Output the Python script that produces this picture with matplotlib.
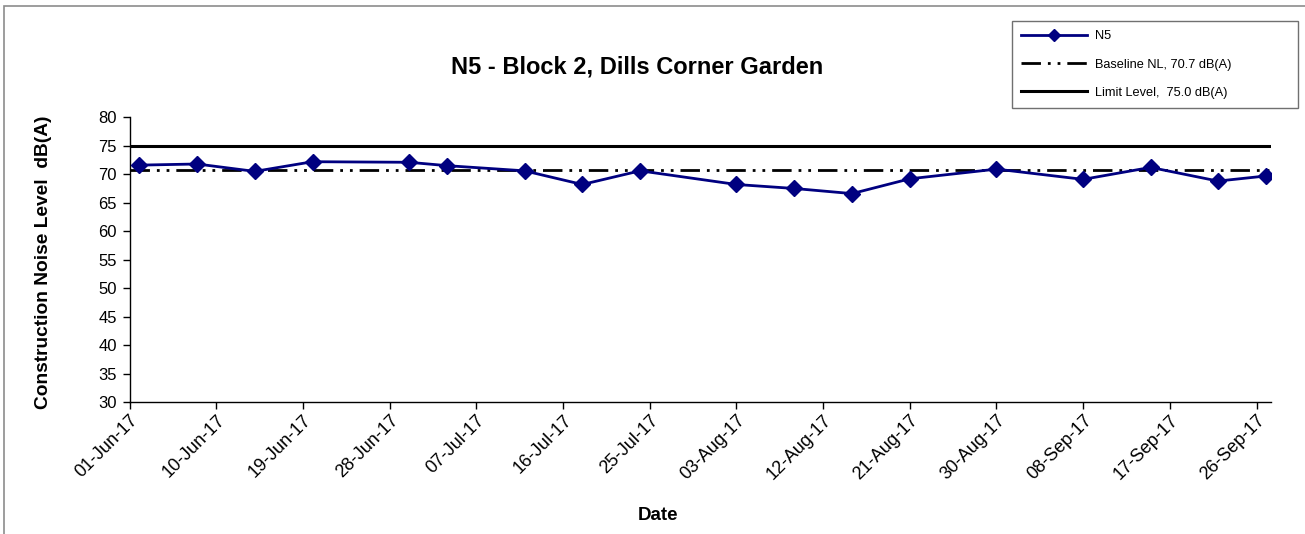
import matplotlib
matplotlib.use("Agg")
import matplotlib.pyplot as plt
from matplotlib.patches import Rectangle
import datetime as dt

plt.rcParams['font.family'] = ['Liberation Sans', 'DejaVu Sans']

dates = ["2017-06-02", "2017-06-08", "2017-06-14", "2017-06-20", "2017-06-30",
         "2017-07-04", "2017-07-12", "2017-07-18", "2017-07-24", "2017-08-03",
         "2017-08-09", "2017-08-15", "2017-08-21", "2017-08-30", "2017-09-08",
         "2017-09-15", "2017-09-22", "2017-09-27"]
n5 = [71.6, 71.8, 70.5, 72.2, 72.1, 71.5, 70.6, 68.2, 70.6, 68.2,
      67.5, 66.6, 69.2, 70.9, 69.1, 71.2, 68.8, 69.7]
baseline = 70.7
limit = 75.0
title = "N5 - Block 2, Dills Corner Garden"
ylabel = "Construction Noise Level  dB(A)"
xlabel = "Date"
series_labels = ["N5", "Baseline NL, 70.7 dB(A)", "Limit Level,  75.0 dB(A)"]
yticks = list(range(30, 81, 5))

x = [dt.datetime.strptime(d, "%Y-%m-%d") for d in dates]
x0 = dt.datetime(2017, 6, 1)
x1 = dt.datetime(2017, 9, 27, 12)

fig = plt.figure(figsize=(13.05, 5.34), dpi=100)
ax = fig.add_axes([129.6/1305, 1-402/534, (1271-129.6)/1305, (402-117.3)/534])

fig.patches.append(Rectangle((4/1305, -0.1), 1.2, 1-6/534+0.1, transform=fig.transFigure,
                             fill=False, edgecolor='#8c8c8c', linewidth=1.2))

l1, = ax.plot(x, n5, color='#000080', linewidth=2, marker='D', markersize=8,
              markerfacecolor='#000080', markeredgecolor='#000080', label=series_labels[0],
              zorder=4)
l2 = ax.axhline(baseline, color='black', linewidth=2, dashes=(7, 2.5, 1, 2.5, 1, 2.5),
                label=series_labels[1], zorder=3)
l3 = ax.axhline(limit, color='black', linewidth=2.2, label=series_labels[2], zorder=3)

ax.set_xlim(x0, x1)
ax.set_ylim(30, 80)
ax.set_yticks(yticks)
ticks = [x0 + dt.timedelta(days=9*i) for i in range(14)]
ax.set_xticks(ticks)
ax.set_xticklabels([t.strftime("%d-%b-%y") for t in ticks], rotation=45,
                   ha='right', va='top', rotation_mode='anchor', fontsize=13)
ax.tick_params(axis='y', labelsize=12, length=5, width=1, direction='out', pad=4)
ax.tick_params(axis='x', length=5, width=1, direction='out', pad=2, colors='black')
ax.spines['top'].set_visible(False)
ax.spines['right'].set_visible(False)
ax.spines['left'].set_linewidth(1)
ax.spines['bottom'].set_linewidth(1)

fig.text(637/1305, 1-67/534, title, ha='center', va='center', fontsize=17, fontweight='bold')
fig.text(44/1305, 1-262/534, ylabel, ha='center', va='center', rotation=90,
         fontsize=13.8, fontweight='bold')
fig.text(658/1305, 1-515/534, xlabel, ha='center', va='center', fontsize=13.5, fontweight='bold')

leg = fig.legend(handles=[l1, l2, l3], labels=series_labels,
                 loc='upper left', bbox_to_anchor=(1012/1305, 1-22/534, 286/1305, 0.001),
                 bbox_transform=fig.transFigure, mode='expand', fontsize=9.2, frameon=True,
                 fancybox=False, edgecolor='#707070', framealpha=1,
                 handlelength=5.2, labelspacing=1.28, borderpad=0.68,
                 handletextpad=0.6, borderaxespad=0)
leg.get_frame().set_linewidth(1)
for h in leg.legend_handles:
    try:
        h.set_markersize(6)
    except Exception:
        pass

fig.savefig("out.png", dpi=100)
